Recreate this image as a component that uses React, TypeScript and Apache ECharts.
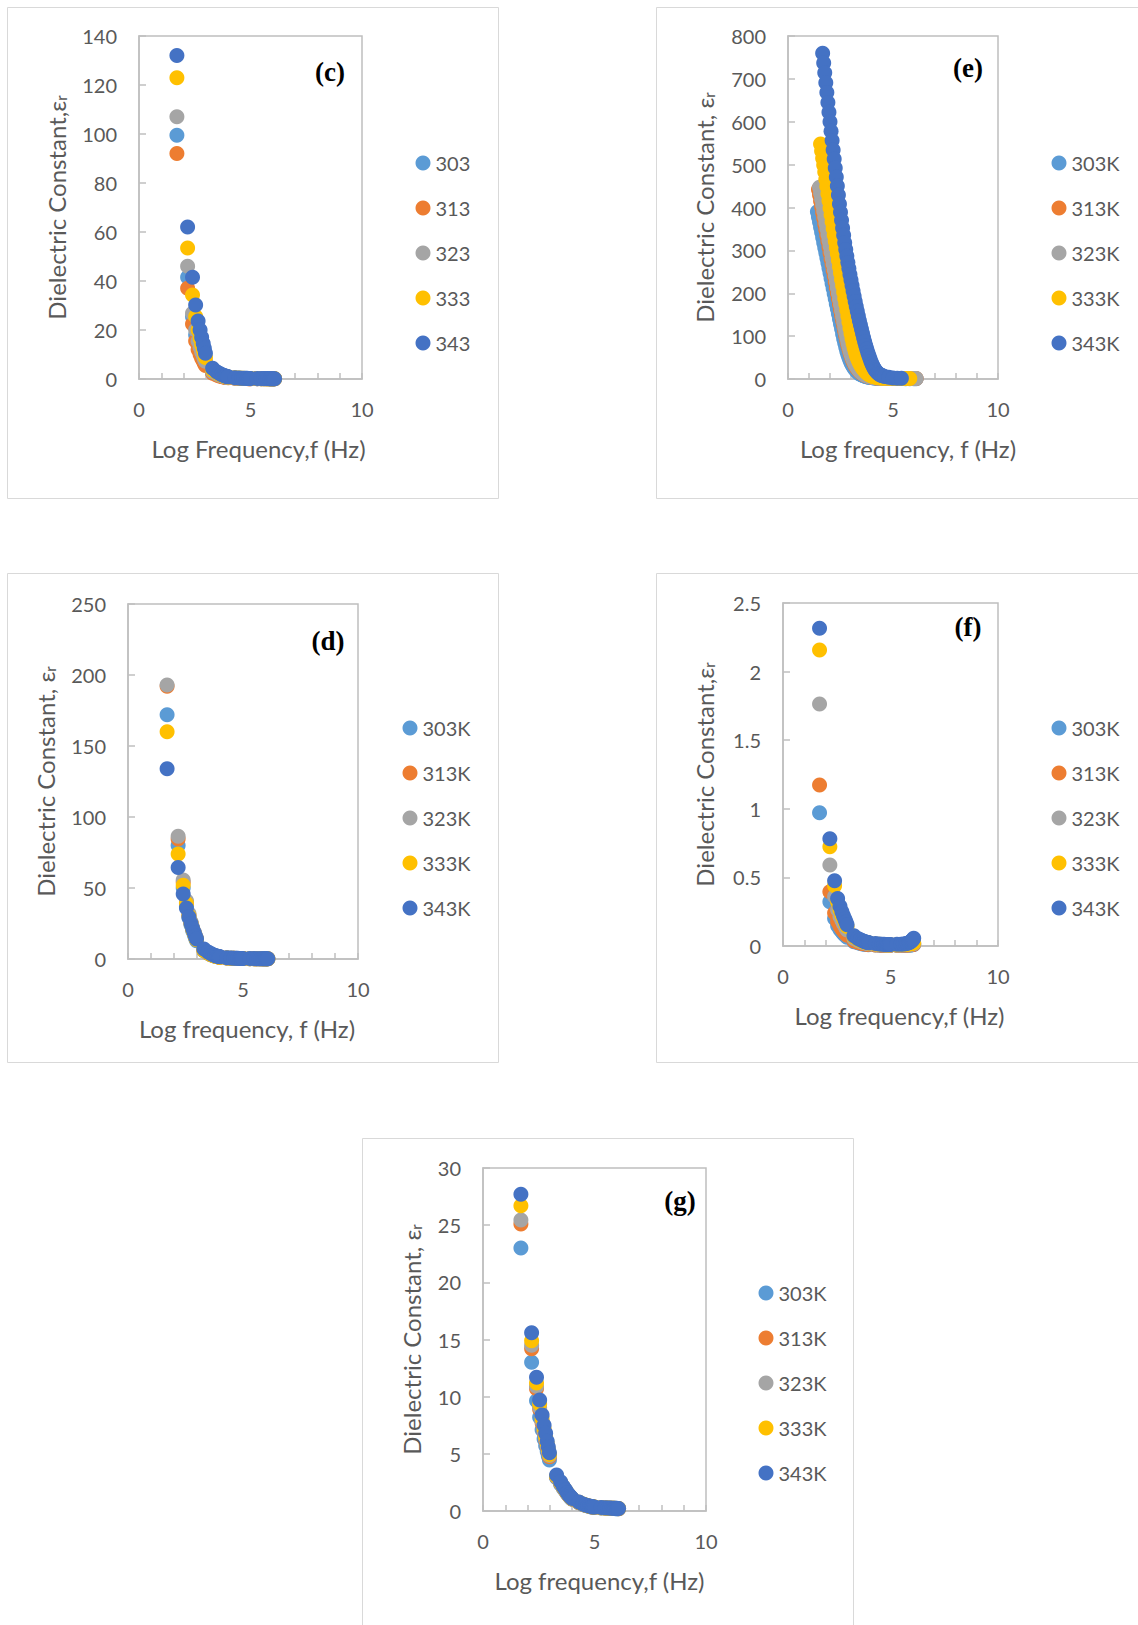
import React, { useEffect, useRef } from "react";
import * as echarts from "echarts";

// Temperature series colours (303 → 343 K)
const COLORS = ["#5B9BD5", "#ED7D31", "#A5A5A5", "#FFC000", "#4472C4"];
const TEXT = "#595959";
const AXIS = "#BFBFBF";
const FRAME = "#D9D9D9";
const FONT = "Lato, 'Open Sans', sans-serif";

const TEMPS_K = ["303K", "313K", "323K", "333K", "343K"];
const TEMPS_PLAIN = ["303", "313", "323", "333", "343"];

// Log frequency sweep shared by panels (c), (d), (f), (g)
const LOG_F = [
  1.70, 2.18, 2.40, 2.54, 2.65, 2.74, 2.81, 2.88, 2.93, 2.98,
  3.30, 3.48, 3.60, 3.70, 3.78, 3.85, 3.90, 3.95, 4.00, 4.30,
  4.48, 4.60, 4.70, 4.78, 4.85, 4.90, 4.95, 5.00, 5.30, 5.48,
  5.60, 5.70, 5.78, 5.85, 5.90, 5.95, 6.00, 6.04, 6.08,
];

// Denser sweep used for panel (e)
const LOG_F_E = [
  1.40, 1.45, 1.50, 1.55, 1.60, 1.65, 1.70, 1.75, 1.80, 1.85,
  1.90, 1.95, 2.00, 2.05, 2.10, 2.15, 2.20, 2.25, 2.30, 2.35,
  2.40, 2.45, 2.50, 2.55, 2.60, 2.65, 2.70, 2.75, 2.80, 2.85,
  2.90, 2.95, 3.00, 3.05, 3.10, 3.15, 3.20, 3.25, 3.30, 3.35,
  3.40, 3.45, 3.50, 3.55, 3.60, 3.65, 3.70, 3.75, 3.80, 3.85,
  3.90, 3.95, 4.00, 4.05, 4.10, 4.15, 4.20, 4.25, 4.30, 4.35,
  4.40, 4.45, 4.50, 4.60, 4.80, 5.00, 5.20, 5.40, 5.60, 5.80,
  6.00, 6.10,
];

// ---- Panel (c) ----
const C_303 = [
  99.5, 41.5, 25.4, 18, 14, 11.5, 9.8, 8.4, 7.3, 6.4,
  2.7, 1.9, 1.45, 1.15, 0.98, 0.85, 0.76, 0.68, 0.6, 0.38,
  0.29, 0.24, 0.21, 0.19, 0.18, 0.17, 0.16, 0.15, 0.13, 0.12,
  0.11, 0.1, 0.1, 0.09, 0.09, 0.09, 0.09, 0.09, 0.09,
];
const C_313 = [
  92, 37, 22.4, 15.5, 12, 10, 8.5, 7.3, 6.3, 5.5,
  2.3, 1.65, 1.25, 1, 0.85, 0.74, 0.66, 0.59, 0.52, 0.33,
  0.25, 0.21, 0.18, 0.17, 0.16, 0.15, 0.14, 0.13, 0.11, 0.1,
  0.1, 0.09, 0.09, 0.08, 0.08, 0.08, 0.08, 0.08, 0.08,
];
const C_323 = [
  107, 46, 26.8, 20, 15.5, 13, 11, 9.5, 8.2, 7.2,
  3, 2.1, 1.6, 1.3, 1.1, 0.95, 0.85, 0.75, 0.68, 0.42,
  0.32, 0.27, 0.24, 0.22, 0.2, 0.19, 0.18, 0.17, 0.14, 0.13,
  0.12, 0.11, 0.11, 0.1, 0.1, 0.1, 0.1, 0.1, 0.1,
];
const C_333 = [
  123, 53.5, 34.3, 25.5, 20, 16.5, 14, 12, 10.3, 8.8,
  3.7, 2.6, 2, 1.6, 1.35, 1.15, 1, 0.9, 0.8, 0.5,
  0.38, 0.32, 0.28, 0.25, 0.23, 0.22, 0.21, 0.2, 0.17, 0.15,
  0.14, 0.13, 0.13, 0.12, 0.12, 0.12, 0.12, 0.11, 0.11,
];
const C_343 = [
  132, 62, 41.5, 30.2, 23.7, 20, 17, 14.5, 12.5, 10.5,
  4.4, 3, 2.3, 1.8, 1.5, 1.3, 1.1, 1, 0.9, 0.5,
  0.4, 0.34, 0.3, 0.28, 0.26, 0.25, 0.24, 0.23, 0.2, 0.18,
  0.17, 0.16, 0.16, 0.15, 0.15, 0.15, 0.14, 0.14, 0.14,
];

// ---- Panel (d) ----
const D_303 = [
  172, 80, 50, 37, 29, 24, 20, 17, 14.8, 12.8,
  5.8, 4, 3, 2.4, 2, 1.7, 1.5, 1.35, 1.2, 0.72,
  0.54, 0.45, 0.4, 0.36, 0.33, 0.31, 0.3, 0.28, 0.24, 0.22,
  0.21, 0.2, 0.19, 0.18, 0.18, 0.18, 0.17, 0.17, 0.17,
];
const D_313 = [
  192, 84.5, 54, 40, 31, 25.5, 21.5, 18.5, 16, 14,
  6.2, 4.3, 3.2, 2.6, 2.1, 1.8, 1.6, 1.45, 1.3, 0.78,
  0.58, 0.48, 0.43, 0.39, 0.36, 0.34, 0.32, 0.3, 0.26, 0.24,
  0.22, 0.21, 0.2, 0.2, 0.19, 0.19, 0.19, 0.18, 0.18,
];
const D_323 = [
  193, 86.5, 55.6, 41, 32, 26, 22, 19, 16.5, 14.5,
  6.5, 4.5, 3.4, 2.7, 2.2, 1.9, 1.7, 1.5, 1.35, 0.8,
  0.6, 0.5, 0.45, 0.4, 0.37, 0.35, 0.33, 0.32, 0.27, 0.25,
  0.23, 0.22, 0.21, 0.2, 0.2, 0.2, 0.19, 0.19, 0.19,
];
const D_333 = [
  160, 74, 52, 39, 30.5, 25, 21, 18, 15.5, 13.5,
  6, 4.2, 3.2, 2.5, 2.1, 1.8, 1.6, 1.4, 1.3, 0.76,
  0.57, 0.47, 0.42, 0.38, 0.35, 0.33, 0.31, 0.3, 0.25, 0.23,
  0.22, 0.21, 0.2, 0.19, 0.19, 0.19, 0.18, 0.18, 0.18,
];
const D_343 = [
  134, 64.5, 45.8, 36, 29.5, 25, 21.5, 18.5, 16, 14,
  7, 5, 3.8, 3, 2.5, 2.1, 1.9, 1.7, 1.5, 0.9,
  0.65, 0.55, 0.48, 0.44, 0.4, 0.38, 0.36, 0.35, 0.3, 0.27,
  0.25, 0.24, 0.23, 0.22, 0.22, 0.21, 0.21, 0.21, 0.2,
];

// ---- Panel (e) ---- (null where a run has no reading)
const E_303 = [
  390, 378, 366, 354, 342, 330, 318, 306, 295, 283,
  271, 259, 247, 235, 223, 211, 199, 187, 175, 164,
  152, 140, 128, 117, 105, 94, 84, 74, 65, 57,
  50, 44, 38, 33, 29, 25, 22, 19, 16.5, 14.5,
  12.5, 11, 9.7, 8.6, 7.6, 6.8, 6, 5.4, 4.8, 4.3,
  3.9, 3.5, 3.2, 2.9, 2.6, 2.4, 2.2, 2, 1.9, 1.8,
  1.7, 1.6, 1.5, 1.4, 1.2, 1.1, 1, 0.9, 0.8, 0.8,
  0.8, 0.8,
];
const E_313 = [
  null, 442, 429, 415, 402, 388, 375, 361, 348, 334,
  321, 307, 294, 280, 267, 253, 240, 226, 213, 200,
  187, 174, 161, 148, 136, 124, 112, 100, 89, 79,
  70, 61, 54, 47, 41, 36, 31, 27, 24, 21,
  18, 16, 14, 12, 10.5, 9.3, 8.2, 7.3, 6.5, 5.8,
  5.2, 4.7, 4.2, 3.8, 3.4, 3.1, 2.8, 2.6, 2.4, 2.2,
  2.1, 2, 1.9, 1.7, 1.4, 1.2, 1.1, 1, 0.9, 0.9,
  0.9, 0.9,
];
const E_323 = [
  null, null, 447, 433, 419, 406, 392, 378, 364, 351,
  337, 323, 310, 296, 282, 268, 255, 241, 227, 213,
  200, 186, 173, 159, 146, 133, 120, 108, 96, 85,
  75, 66, 58, 51, 45, 39, 34, 30, 26, 22.5,
  19.5, 17, 15, 13, 11.5, 10, 9, 8, 7, 6.2,
  5.5, 5, 4.5, 4, 3.6, 3.3, 3, 2.8, 2.6, 2.4,
  2.2, 2.1, 2, 1.8, 1.5, 1.3, 1.2, 1.1, 1, 1,
  1, 1,
];
const E_333 = [
  null, null, null, 548, 532, 515, 499, 483, 466, 449,
  432, 416, 399, 383, 367, 351, 336, 321, 306, 292,
  277, 262, 247, 232, 218, 203, 188, 175, 161, 147,
  133, 119, 106, 94, 83, 73, 64, 56, 49, 43,
  38, 33, 29, 25, 22, 19, 16.5, 14, 12, 10.5,
  9, 8, 7, 6, 5.3, 4.7, 4.2, 3.8, 3.4, 3.1,
  2.8, 2.6, 2.4, 2, 1.6, 1.3, 1.1, 1, 0.9, 0.9,
  null, null,
];
const E_343 = [
  null, null, null, null, null, 760, 737, 714, 691, 668,
  645, 622, 600, 578, 556, 534, 513, 492, 471, 450,
  429, 408, 389, 370, 352, 335, 318, 302, 287, 272,
  258, 244, 231, 218, 205, 193, 181, 169, 158, 147,
  136, 126, 116, 106, 96, 87, 78, 70, 62, 55,
  48, 41, 35, 30, 25, 21, 18, 15, 13, 11,
  9.5, 8.5, 7.5, 6, 4, 2.5, 1.8, 1.5, null, null,
  null, null,
];

// ---- Panel (f) ----
const F_303 = [
  0.972, 0.323, 0.2, 0.148, 0.12, 0.103, 0.09, 0.08, 0.072, 0.064,
  0.031, 0.023, 0.018, 0.015, 0.013, 0.012, 0.011, 0.01, 0.01, 0.007,
  0.006, 0.005, 0.005, 0.005, 0.005, 0.005, 0.005, 0.005, 0.005, 0.005,
  0.006, 0.006, 0.007, 0.007, 0.008, 0.008, 0.009, 0.01, 0.011,
];
const F_313 = [
  1.173, 0.396, 0.24, 0.178, 0.145, 0.124, 0.11, 0.098, 0.088, 0.078,
  0.037, 0.027, 0.022, 0.019, 0.016, 0.015, 0.014, 0.013, 0.012, 0.008,
  0.007, 0.006, 0.006, 0.006, 0.006, 0.006, 0.006, 0.006, 0.006, 0.006,
  0.007, 0.007, 0.008, 0.009, 0.009, 0.01, 0.011, 0.012, 0.013,
];
const F_323 = [
  1.764, 0.59, 0.36, 0.265, 0.215, 0.185, 0.163, 0.145, 0.13, 0.116,
  0.055, 0.04, 0.033, 0.028, 0.024, 0.022, 0.02, 0.019, 0.017, 0.012,
  0.01, 0.009, 0.008, 0.008, 0.008, 0.008, 0.008, 0.008, 0.008, 0.008,
  0.009, 0.01, 0.011, 0.012, 0.013, 0.014, 0.015, 0.017, 0.018,
];
const F_333 = [
  2.157, 0.724, 0.44, 0.32, 0.265, 0.225, 0.2, 0.178, 0.16, 0.142,
  0.068, 0.05, 0.04, 0.034, 0.03, 0.027, 0.025, 0.023, 0.021, 0.015,
  0.012, 0.011, 0.01, 0.009, 0.009, 0.009, 0.009, 0.009, 0.009, 0.01,
  0.011, 0.012, 0.013, 0.015, 0.016, 0.018, 0.02, 0.022, 0.024,
];
const F_343 = [
  2.316, 0.782, 0.476, 0.347, 0.29, 0.25, 0.22, 0.195, 0.175, 0.155,
  0.075, 0.055, 0.045, 0.038, 0.033, 0.03, 0.028, 0.026, 0.024, 0.018,
  0.015, 0.013, 0.012, 0.011, 0.011, 0.011, 0.011, 0.011, 0.012, 0.013,
  0.015, 0.017, 0.02, 0.024, 0.028, 0.033, 0.04, 0.048, 0.056,
];

// ---- Panel (g) ----
const G_303 = [
  23, 13, 9.65, 8.2, 7.1, 6.3, 5.7, 5.2, 4.8, 4.45,
  2.9, 2.35, 2, 1.72, 1.5, 1.33, 1.22, 1.12, 1.03, 0.72,
  0.57, 0.49, 0.43, 0.39, 0.36, 0.34, 0.33, 0.31, 0.27, 0.25,
  0.24, 0.23, 0.22, 0.21, 0.21, 0.2, 0.2, 0.2, 0.19,
];
const G_313 = [
  25.1, 14.2, 10.7, 8.9, 7.7, 6.9, 6.2, 5.6, 5.15, 4.75,
  2.98, 2.42, 2.05, 1.77, 1.54, 1.37, 1.25, 1.15, 1.06, 0.75,
  0.59, 0.51, 0.45, 0.41, 0.38, 0.36, 0.34, 0.33, 0.28, 0.26,
  0.25, 0.24, 0.23, 0.22, 0.22, 0.21, 0.21, 0.21, 0.2,
];
const G_323 = [
  25.45, 14.5, 10.9, 9.05, 7.85, 7, 6.3, 5.7, 5.25, 4.85,
  3, 2.45, 2.07, 1.79, 1.56, 1.38, 1.26, 1.16, 1.07, 0.76,
  0.6, 0.51, 0.45, 0.41, 0.38, 0.36, 0.35, 0.33, 0.29, 0.27,
  0.25, 0.24, 0.23, 0.23, 0.22, 0.22, 0.21, 0.21, 0.21,
];
const G_333 = [
  26.7, 14.9, 11.2, 9.35, 8.1, 7.2, 6.5, 5.9, 5.4, 4.95,
  3.05, 2.5, 2.1, 1.82, 1.58, 1.4, 1.28, 1.18, 1.08, 0.77,
  0.61, 0.52, 0.46, 0.42, 0.39, 0.37, 0.35, 0.34, 0.29, 0.27,
  0.26, 0.25, 0.24, 0.23, 0.23, 0.22, 0.22, 0.21, 0.21,
];
const G_343 = [
  27.7, 15.6, 11.7, 9.7, 8.4, 7.5, 6.8, 6.1, 5.6, 5.1,
  3.15, 2.55, 2.15, 1.85, 1.6, 1.42, 1.3, 1.2, 1.1, 0.78,
  0.62, 0.53, 0.47, 0.43, 0.4, 0.38, 0.36, 0.35, 0.3, 0.28,
  0.27, 0.26, 0.25, 0.24, 0.24, 0.23, 0.23, 0.22, 0.22,
];

type PanelSpec = {
  id: string;
  label: string;
  x: number;
  y: number;
  w: number; // visible chart box
  h: number;
  frameW: number;
  frameH: number;
  grid: { left: number; top: number; width: number; height: number };
  yMax: number;
  yStep: number;
  xName: string;
  xShift: number;
  yName: string;
  yGap: number;
  names: string[];
  logF: number[];
  values: (number | null)[][];
  legendX: number;
  legendY: number;
  labelX: number;
  labelY: number;
};

const PANELS: PanelSpec[] = [
  {
    id: "c", label: "(c)", x: 7, y: 7, w: 492, h: 492, frameW: 492, frameH: 492,
    grid: { left: 132, top: 29, width: 223, height: 343 },
    yMax: 140, yStep: 20,
    xName: "Log Frequency,f (Hz)", xShift: 8,
    yName: "Dielectric Constant,ε", yGap: 71,
    names: TEMPS_PLAIN, logF: LOG_F,
    values: [C_303, C_313, C_323, C_333, C_343],
    legendX: 416, legendY: 156, labelX: 323, labelY: 65,
  },
  {
    id: "e", label: "(e)", x: 656, y: 7, w: 482, h: 492, frameW: 492, frameH: 492,
    grid: { left: 132, top: 29, width: 210, height: 343 },
    yMax: 800, yStep: 100,
    xName: "Log frequency, f (Hz)", xShift: 15,
    yName: "Dielectric Constant, ε", yGap: 72,
    names: TEMPS_K, logF: LOG_F_E,
    values: [E_303, E_313, E_323, E_333, E_343],
    legendX: 403, legendY: 156, labelX: 312, labelY: 61,
  },
  {
    id: "d", label: "(d)", x: 7, y: 573, w: 492, h: 490, frameW: 492, frameH: 490,
    grid: { left: 121, top: 31, width: 230, height: 355 },
    yMax: 250, yStep: 50,
    xName: "Log frequency, f (Hz)", xShift: 4,
    yName: "Dielectric Constant, ε", yGap: 71,
    names: TEMPS_K, logF: LOG_F,
    values: [D_303, D_313, D_323, D_333, D_343],
    legendX: 403, legendY: 155, labelX: 321, labelY: 68,
  },
  {
    id: "f", label: "(f)", x: 656, y: 573, w: 482, h: 490, frameW: 492, frameH: 490,
    grid: { left: 127, top: 30, width: 215, height: 343 },
    yMax: 2.5, yStep: 0.5,
    xName: "Log frequency,f (Hz)", xShift: 9,
    yName: "Dielectric Constant,ε", yGap: 67,
    names: TEMPS_K, logF: LOG_F,
    values: [F_303, F_313, F_323, F_333, F_343],
    legendX: 403, legendY: 155, labelX: 312, labelY: 54,
  },
  {
    id: "g", label: "(g)", x: 362, y: 1138, w: 492, h: 487, frameW: 492, frameH: 492,
    grid: { left: 121, top: 30, width: 223, height: 343 },
    yMax: 30, yStep: 5,
    xName: "Log frequency,f (Hz)", xShift: 5,
    yName: "Dielectric Constant, ε", yGap: 60,
    names: TEMPS_K, logF: LOG_F,
    values: [G_303, G_313, G_323, G_333, G_343],
    legendX: 404, legendY: 155, labelX: 318, labelY: 63,
  },
];

function toPoints(xs: number[], ys: (number | null)[]) {
  const pts: number[][] = [];
  xs.forEach((x, i) => {
    const v = ys[i];
    if (v !== null && v !== undefined) pts.push([x, v]);
  });
  return pts;
}

function buildOption(p: PanelSpec) {
  const axisLine = { show: true, lineStyle: { color: AXIS, width: 1.5 } };
  return {
    animation: false,
    textStyle: { fontFamily: FONT },
    grid: { ...p.grid, show: true, borderColor: AXIS, borderWidth: 1.5, backgroundColor: "transparent" },
    xAxis: {
      type: "value",
      min: 0,
      max: 10,
      interval: 1,
      axisLine,
      axisTick: { show: true, inside: true, length: 6, lineStyle: { color: AXIS, width: 1.5 } },
      axisLabel: {
        color: TEXT,
        fontSize: 20,
        fontFamily: FONT,
        margin: 20,
        formatter: (v: number) => (v % 5 === 0 ? String(v) : ""),
      },
      splitLine: { show: false },
      name: p.xName,
      nameLocation: "middle",
      nameGap: 57,
      nameTextStyle: { color: TEXT, fontSize: 24, fontFamily: FONT, padding: [0, 0, 0, p.xShift * 2] },
    },
    yAxis: {
      type: "value",
      min: 0,
      max: p.yMax,
      interval: p.yStep,
      axisLine,
      axisTick: { show: true, inside: true, length: 7, lineStyle: { color: AXIS, width: 1.5 } },
      axisLabel: { color: TEXT, fontSize: 20, fontFamily: FONT, margin: 22 },
      splitLine: { show: false },
      name: "{t|" + p.yName + "}{s|r}",
      nameLocation: "middle",
      nameGap: p.yGap,
      nameTextStyle: {
        color: TEXT,
        fontSize: 24,
        fontFamily: FONT,
        rich: {
          t: { color: TEXT, fontSize: 24, fontFamily: FONT },
          s: { color: TEXT, fontSize: 15, fontFamily: FONT, verticalAlign: "bottom" },
        },
      },
    },
    legend: {
      orient: "vertical",
      left: p.legendX - 7.5,
      top: p.legendY - 10,
      padding: 0,
      icon: "circle",
      itemWidth: 15,
      itemHeight: 15,
      itemGap: 25,
      selectedMode: false,
      data: p.names,
      textStyle: { color: TEXT, fontSize: 20, lineHeight: 20, fontFamily: FONT },
    },
    series: p.names.map((name, i) => ({
      name,
      type: "scatter",
      symbol: "circle",
      symbolSize: 15,
      clip: false,
      itemStyle: { color: COLORS[i], opacity: 1 },
      data: toPoints(p.logF, p.values[i]),
    })),
    graphic: [
      {
        type: "rect",
        silent: true,
        z: -10,
        shape: { x: 0.5, y: 0.5, width: p.frameW - 1, height: p.frameH - 1 },
        style: { fill: "none", stroke: FRAME, lineWidth: 1 },
      },
      {
        type: "text",
        silent: true,
        x: p.labelX,
        y: p.labelY,
        style: {
          text: p.label,
          fill: "#000000",
          font: "bold 27px 'Liberation Serif', 'Times New Roman', serif",
          align: "center",
          verticalAlign: "middle",
        },
      },
    ],
  };
}

function Panel({ spec }: { spec: PanelSpec }) {
  const ref = useRef<HTMLDivElement | null>(null);
  useEffect(() => {
    if (!ref.current) return;
    const chart = echarts.init(ref.current, null, { renderer: "svg" });
    chart.setOption(buildOption(spec) as any);
    return () => chart.dispose();
  }, [spec]);
  return (
    <div
      ref={ref}
      style={{ position: "absolute", left: spec.x, top: spec.y, width: spec.w, height: spec.h }}
    />
  );
}

export default function App() {
  return (
    <div
      style={{
        position: "absolute",
        left: 0,
        top: 0,
        width: 1138,
        height: 1625,
        overflow: "hidden",
        background: "#ffffff",
      }}
    >
      {PANELS.map((p) => (
        <Panel key={p.id} spec={p} />
      ))}
    </div>
  );
}
